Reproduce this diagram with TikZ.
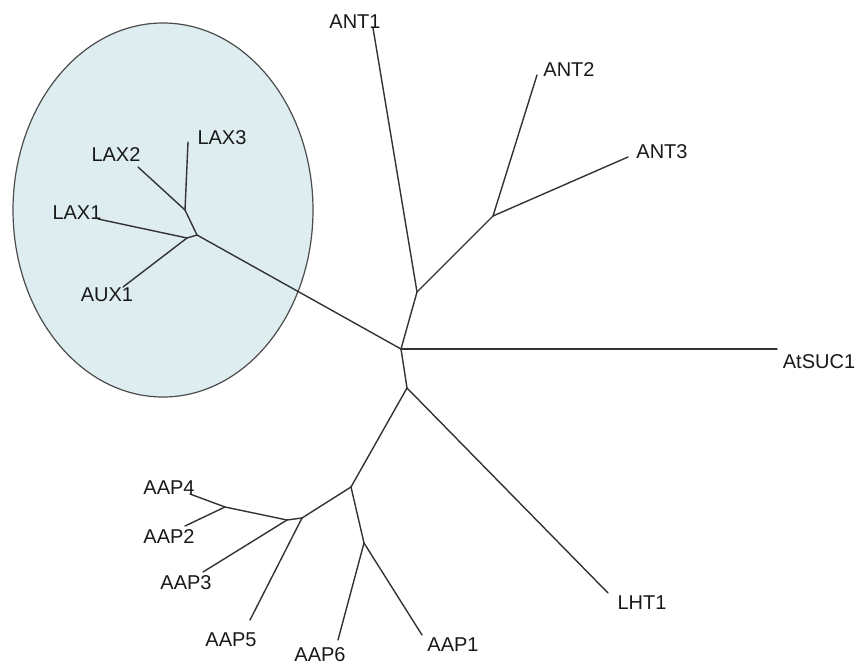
\documentclass[tikz,border=0pt]{standalone}
\usepackage{fontspec}
\setmainfont{Liberation Sans}
\begin{document}
\begin{tikzpicture}[x=1pt,y=-1pt,
  branch/.style={draw=black!80,line width=1.4pt,line cap=round,line join=round},
  leaf/.style={inner sep=0pt,font=\fontsize{20}{22}\selectfont,text=black!90},
  clade/.style={draw=black!70,line width=1.2pt,fill={rgb,255:red,221;green,237;blue,240}}]
\useasboundingbox (0,0) rectangle (857,666);
\fill[white] (0,0) rectangle (857,666);

% highlighted auxin-carrier group
\draw[clade] (163,210) ellipse [x radius=150,y radius=187];

% internal nodes
\coordinate (root) at (401,349);
\coordinate (nAnt) at (417,292);
\coordinate (nAnt23) at (493,216);
\coordinate (nLax) at (197,235);
\coordinate (nLax23) at (185,210);
\coordinate (nLax1) at (187,238);
\coordinate (nAap) at (407,388);
\coordinate (nAapA) at (351,487);
\coordinate (nAapB) at (302,518);
\coordinate (nAapC) at (287,520);
\coordinate (nAap42) at (225,507);
\coordinate (nAap61) at (364,543);

% leaf tips
\coordinate (tANT1) at (373,28);
\coordinate (tANT2) at (537,75);
\coordinate (tANT3) at (628,157);
\coordinate (tSUC) at (777,349);
\coordinate (tLHT) at (608,593);
\coordinate (tLAX3) at (188,142);
\coordinate (tLAX2) at (138,167);
\coordinate (tLAX1) at (98,219);
\coordinate (tAUX1) at (123,287);
\coordinate (tAAP4) at (190,494);
\coordinate (tAAP2) at (185,526);
\coordinate (tAAP3) at (203,572);
\coordinate (tAAP5) at (250,620);
\coordinate (tAAP6) at (338,640);
\coordinate (tAAP1) at (422,635);

% branches
\draw[branch] (root) -- (nAnt);
\draw[branch] (nAnt) -- (tANT1);
\draw[branch] (nAnt) -- (nAnt23);
\draw[branch] (nAnt23) -- (tANT2);
\draw[branch] (nAnt23) -- (tANT3);
\draw[branch] (root) -- (tSUC);
\draw[branch] (root) -- (nLax);
\draw[branch] (nLax) -- (nLax23);
\draw[branch] (nLax23) -- (tLAX3);
\draw[branch] (nLax23) -- (tLAX2);
\draw[branch] (nLax) -- (nLax1);
\draw[branch] (nLax1) -- (tLAX1);
\draw[branch] (nLax1) -- (tAUX1);
\draw[branch] (root) -- (nAap);
\draw[branch] (nAap) -- (tLHT);
\draw[branch] (nAap) -- (nAapA);
\draw[branch] (nAapA) -- (nAap61);
\draw[branch] (nAap61) -- (tAAP6);
\draw[branch] (nAap61) -- (tAAP1);
\draw[branch] (nAapA) -- (nAapB);
\draw[branch] (nAapB) -- (tAAP5);
\draw[branch] (nAapB) -- (nAapC);
\draw[branch] (nAapC) -- (tAAP3);
\draw[branch] (nAapC) -- (nAap42);
\draw[branch] (nAap42) -- (tAAP4);
\draw[branch] (nAap42) -- (tAAP2);

% labels
\node[leaf] (lANT1) at (355,22) {ANT1};
\node[leaf] (lANT2) at (569,70) {ANT2};
\node[leaf] (lANT3) at (662,152) {ANT3};
\node[leaf] (lSUC) at (819,362) {AtSUC1};
\node[leaf] (lLHT) at (642,603) {LHT1};
\node[leaf] (lAAP1) at (453,645) {AAP1};
\node[leaf] (lAAP6) at (320,655) {AAP6};
\node[leaf] (lAAP5) at (231,640) {AAP5};
\node[leaf] (lAAP3) at (186,583) {AAP3};
\node[leaf] (lAAP2) at (169,537) {AAP2};
\node[leaf] (lAAP4) at (169,488) {AAP4};
\node[leaf] (lLAX3) at (222,138) {LAX3};
\node[leaf] (lLAX2) at (116,155) {LAX2};
\node[leaf] (lLAX1) at (77,213) {LAX1};
\node[leaf] (lAUX1) at (107,295) {AUX1};
\end{tikzpicture}
\end{document}
